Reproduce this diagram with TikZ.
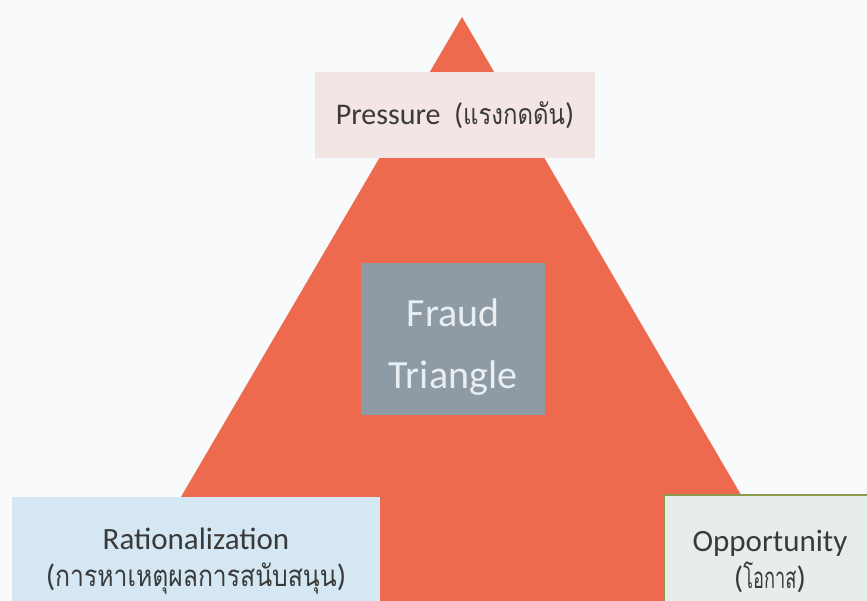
\documentclass[tikz,border=0pt]{standalone}
\usepackage{fontspec}
\setmainfont{Carlito}
\newfontfamily\thaifont[Script=Thai,Scale=0.95,FakeStretch=0.84]{Loma}
\newfontfamily\thainarrow[Script=Thai,Scale=0.95,FakeStretch=0.62]{Loma}
\definecolor{bgc}{HTML}{F8FAFB}
\definecolor{tri}{HTML}{EE6A4F}
\definecolor{presc}{HTML}{F3E5E3}
\definecolor{fraudc}{HTML}{8E9BA5}
\definecolor{ratc}{HTML}{D4E7F2}
\definecolor{oppc}{HTML}{E7EEE9}
\definecolor{oppb}{HTML}{8C9A4C}
\definecolor{txt}{HTML}{3A3A3A}
\definecolor{ftxt}{HTML}{E9EEF2}
\begin{document}
\begin{tikzpicture}[x=1pt,y=-1pt,
  box/.style={rectangle, inner sep=0pt, align=center, text=txt,
    font=\fontsize{31}{37}\selectfont},
]
\useasboundingbox (0,0) rectangle (867,601);
\fill[bgc] (0,0) rectangle (867,601);
\begin{scope}
\clip (0,0) rectangle (867,601);
\coordinate (apex) at (462,17);
\coordinate (bl) at (120,601);
\coordinate (br) at (803,601);
\fill[tri] (apex) -- (br) -- (bl) -- cycle;
\node[box, fill=presc, minimum width=280pt, minimum height=86pt,
  font=\fontsize{30}{37}\selectfont] (pressure) at (455,115)
  {Pressure\ \ ({\thaifont แรงกดดัน})};
\node[box, fill=fraudc, minimum width=184pt, minimum height=152pt] (fraud) at (453,339) {};
\node[box, text=ftxt, font=\fontsize{40}{62}\selectfont] (fraudlabel)
  at ([yshift=-8pt]fraud.center) {Fraud\\Triangle};
\node[box, fill=ratc, minimum width=368pt, minimum height=128pt] (rat) at (196,561)
  {Rationalization\\({\thaifont การหาเหตุผลการสนับสนุน})};
\node[box, fill=oppc, draw=oppb, line width=1.2pt, minimum width=212pt, minimum height=132pt] (opp) at (770,561)
  {Opportunity\\({\thainarrow โอกาส})};
\end{scope}
\end{tikzpicture}
\end{document}
